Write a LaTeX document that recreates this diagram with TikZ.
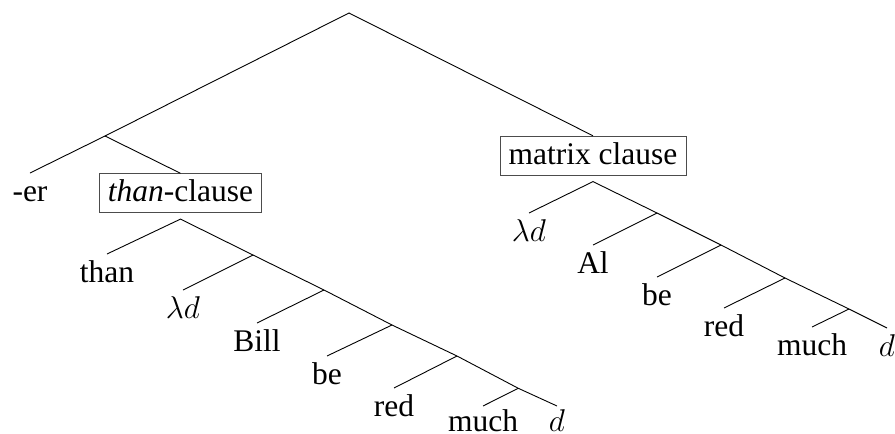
\RequirePackage{fix-cm}
\documentclass[tikz,border=0pt]{standalone}
\usepackage{fontspec}
\setmainfont{Liberation Serif}
\tikzset{
  lbl/.style={font=\fontsize{31.5}{38}\selectfont, inner xsep=2pt, inner ysep=5pt,
    text height=23pt, text depth=6pt, anchor=north},
  lastlbl/.style={lbl, inner ysep=2.5pt, text depth=0pt},
  boxed/.style={lbl, draw=black!70, line width=0.8pt, inner xsep=8.5pt},
  edge/.style={line width=0.9pt, line join=miter}
}
\begin{document}
\begin{tikzpicture}[x=1pt,y=-1pt]
\useasboundingbox (0,0) rectangle (895,434);
% top level
\coordinate (r) at (349,13);
\coordinate (n1) at (105,136);
\node[lbl] (er) at (30,173) {-er};
\node[boxed] (tc) at (180.5,173.3) {\textit{than}-clause};
\node[boxed] (mc) at (593,135.8) {matrix clause};
\draw[edge] (er.north) -- (n1) -- (tc.north);
\draw[edge] (n1) -- (r) -- (mc.north);
% than-clause subtree
\coordinate (t1) at ([yshift=-6pt]tc.south);
\coordinate (t2) at (253,255);
\coordinate (t3) at (324,290);
\coordinate (t4) at (392,325);
\coordinate (t5) at (457,356);
\coordinate (t6) at (518.3,388.3);
\node[lbl] (than) at (107,254) {than};
\node[lbl] (ld1) at (183,290) {$\lambda d$};
\node[lbl] (bill) at (257,323) {Bill};
\node[lbl] (be1) at (327,356) {be};
\node[lbl] (red1) at (394,388) {red};
\node[lastlbl] (much1) at (483,406) {much};
\node[lastlbl] (d1) at (557,406) {$d$};
\draw[edge] (than.north) -- (t1) -- (t2) -- (t3) -- (t4) -- (t5) -- (t6) -- (d1.north);
\draw[edge] (t2) -- (ld1.north);
\draw[edge] (t3) -- (bill.north);
\draw[edge] (t4) -- (be1.north);
\draw[edge] (t5) -- (red1.north);
\draw[edge] (t6) -- (much1.north);
% matrix clause subtree
\coordinate (m1) at ([yshift=-6pt]mc.south);
\coordinate (m2) at (657,213);
\coordinate (m3) at (721,245);
\coordinate (m4) at (785,278);
\coordinate (m5) at (849,309);
\node[lbl] (ld2) at (529,213) {$\lambda d$};
\node[lbl] (al) at (593,245) {Al};
\node[lbl] (be2) at (657,277) {be};
\node[lbl] (red2) at (724,308) {red};
\node[lbl] (much2) at (812,327) {much};
\node[lbl] (d2) at (887,328) {$d$};
\draw[edge] (ld2.north) -- (m1) -- (m2) -- (m3) -- (m4) -- (m5) -- (d2.north);
\draw[edge] (m2) -- (al.north);
\draw[edge] (m3) -- (be2.north);
\draw[edge] (m4) -- (red2.north);
\draw[edge] (m5) -- (much2.north);
\end{tikzpicture}
\end{document}
